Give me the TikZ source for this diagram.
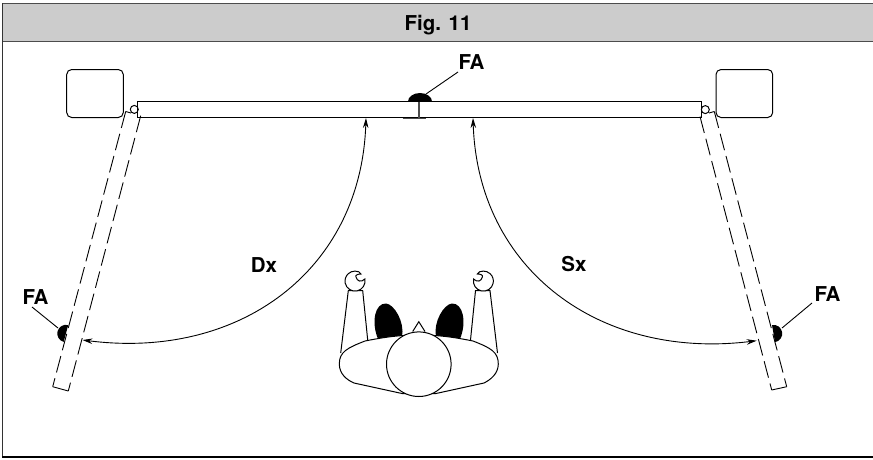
\documentclass[tikz,border=0pt]{standalone}
\usepackage{fontspec}
\setmainfont{TeX Gyre Heros}
\usetikzlibrary{arrows.meta}
\definecolor{hdr}{RGB}{204,204,204}
\tikzset{
  x=1pt,y=-1pt,
  ln/.style={draw=black,line width=1pt},
  thin ln/.style={draw=black,line width=0.9pt},
  dsh/.style={draw=black,line width=0.9pt,dash pattern=on 17pt off 6pt},
  lbl/.style={font=\bfseries\fontsize{20.5}{22}\selectfont,inner sep=0pt,text=black},
  arc ln/.style={draw=black,line width=0.9pt,{Stealth[length=10pt,width=5.5pt]}-{Stealth[length=10pt,width=5.5pt]}},
}
\begin{document}
\begin{tikzpicture}
\useasboundingbox (0,0) rectangle (873,459);
\fill[white] (0,0) rectangle (873,459);
% frame and header
\fill[hdr] (2,3) rectangle (873,41);
\draw[draw=black!70,line width=1pt] (2,41) -- (873,41);
\draw[draw=black!70,line width=1pt] (2,3) -- (873,3);
\draw[draw=black!80,line width=1pt] (2.5,3) -- (2.5,457);
\draw[draw=black,line width=1.2pt] (2,457) -- (873,457);
\node[lbl,anchor=base] (title) at (438,30) {Fig. 11};
% pillars
\draw[ln,rounded corners=5pt] (66.7,69.5) rectangle (123.3,117.5);
\draw[ln,rounded corners=5pt] (716,69.5) rectangle (772.7,117.5);
% hinges
\node[draw,ln,circle,minimum size=8pt,inner sep=0pt] (hl) at (134.3,109.4) {};
\node[draw,ln,circle,minimum size=8pt,inner sep=0pt] (hr) at (705.3,109.6) {};
% closed leaf
\draw[ln] (137.7,101.5) rectangle (701.7,117);
% stop
\draw[draw=black!70,line width=1.4pt] (402.5,118.3) -- (426,118.3);
% photocell centre
\fill[black] (408,101.5) arc[start angle=180,end angle=360,x radius=12,y radius=8.5] -- cycle;
\draw[draw=black!70,line width=1.4pt] (418.8,101.5) -- (418.8,118);
\node[lbl] (fac) at (471.5,62.5) {FA};
\draw[thin ln] (458,72) -- (426,94);
% open leaves, left
\draw[dsh] (125.7,111.5) -- (52.7,386.7);
\draw[dsh] (140.7,115.7) -- (68.3,391);
\draw[thin ln] (52.7,386.7) -- (68.3,391);
\draw[thin ln] (125.7,111.5) -- (131,113);
% open leaves, right
\draw[dsh] (714.3,111.5) -- (786.7,386.7);
\draw[dsh] (700,116.5) -- (771.7,390);
\draw[thin ln] (786.7,386.7) -- (771.7,390);
\draw[thin ln] (714.3,111.5) -- (709,113);
% photocell left
\fill[black] (68.2,325.1) arc[start angle=-75,end angle=-255,radius=8.7] -- cycle;
\node[lbl] (fal) at (35.5,297) {FA};
\draw[thin ln] (32,307) -- (58,328);
% photocell right
\fill[black] (772,325) arc[start angle=-100,end angle=80,radius=8.7] -- cycle;
\node[lbl] (far) at (827.5,294.5) {FA};
\draw[thin ln] (812,303) -- (782,328);
% swing arcs
\draw[arc ln] (366,118) .. controls (361,270) and (240,360) .. (82.5,340);
\draw[arc ln] (473,118) .. controls (478,270) and (600,360) .. (756.7,340.7);
\node[lbl] (dx) at (264,265) {Dx};
\node[lbl] (sx) at (574,264) {Sx};
% person
\fill[black] (378,339) .. controls (371,322) and (375,303) .. (386,303.5) .. controls (394,304) and (405,322) .. (402,337) -- cycle;
\fill[black] (460,339) .. controls (467,322) and (463,303) .. (452,303.5) .. controls (444,304) and (433,322) .. (436,337) -- cycle;
\draw[ln,fill=white] (339.3,364) .. controls (339.3,352) and (347,348) .. (365,341) .. controls (385,337) and (400,335) .. (419,335)
  .. controls (438,335) and (453,337) .. (473,341) .. controls (491,348) and (498.3,352) .. (498.3,364)
  .. controls (498.3,374) and (490,380) .. (484,383) -- (436,393.5) -- (402,393.5) -- (354,383) .. controls (347,380) and (339.3,374) .. (339.3,364) -- cycle;
\draw[ln] (340.7,353) -- (348.3,290.7) -- (362.7,290.7) -- (367.7,340);
\draw[ln] (497.5,353) -- (490,290.7) -- (475.5,290.7) -- (470.5,340);
\draw[ln] (412.7,331.5) -- (418.8,321.7) -- (425,331.5);
\node[draw,ln,fill=white,circle,minimum size=64.6pt,inner sep=0pt] (head) at (418.8,364.2) {};
% hands
\draw[ln,fill=white] (364.8,279) arc[start angle=-12,end angle=270,radius=10] .. controls (358,271) and (360,272) .. (361,274) .. controls (358,274) and (355,275) .. (356,277) .. controls (357,281) and (361,283) .. (364.8,279) -- cycle;
\draw[ln,fill=white] (473.6,279) arc[start angle=192,end angle=-90,radius=10] .. controls (480.4,271) and (478.4,272) .. (477.4,274) .. controls (480.4,274) and (483.4,275) .. (482.4,277) .. controls (481.4,281) and (477.4,283) .. (473.6,279) -- cycle;
\end{tikzpicture}
\end{document}
